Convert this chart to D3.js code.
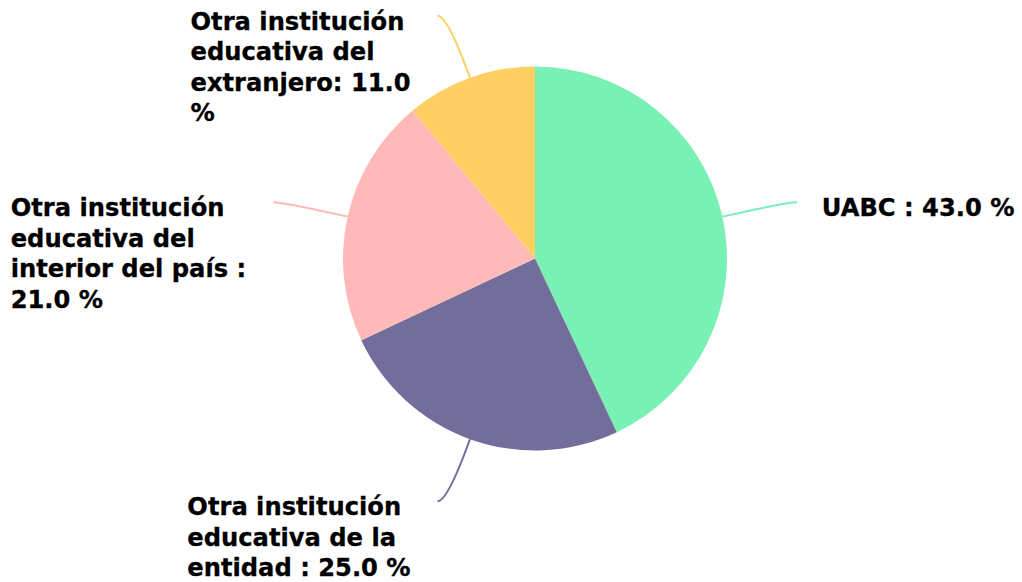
<!DOCTYPE html>
<html>
<head>
<meta charset="utf-8">
<script src="https://cdn.jsdelivr.net/npm/d3@7"></script>
<style>
  body { margin: 0; background: #fff; }
  svg { display: block; }
</style>
</head>
<body>
<svg id="canvas" width="1022" height="582"></svg>
<script>
let categories = [
    'UABC',
    'Otra institución educativa de la entidad',
    'Otra institución educativa del interior del país',
    'Otra institución educativa del extranjero'
]
let values = [43.0, 25.0, 21.0, 11.0]
let labelLines = [
    ['UABC : 43.0 %'],
    ['Otra institución', 'educativa de la', 'entidad : 25.0 %'],
    ['Otra institución', 'educativa del', 'interior del país :', '21.0 %'],
    ['Otra institución', 'educativa del', 'extranjero: 11.0', '%']
]
let colors = ['#79f0b4', '#736d9b', '#ffb9b9', '#ffcf64']

let cx = 535
let cy = 258.5
let radius = 192
let leadRadial = 66   // first segment of the leader line
let leadFlat = 10     // horizontal end of the leader line
let labelGap = 25
let lineHeight = 30.5

let canvas = d3.select('#canvas')

let data = categories.map((name, i) => {
    return { name: name, value: values[i], lines: labelLines[i], color: colors[i] }
})

let pie = d3.pie()
    .sort(null)
    .value((d) => d.value)

let arc = d3.arc()
    .innerRadius(0)
    .outerRadius(radius)

let arcs = pie(data)

let g = canvas.append('g')
    .attr('transform', 'translate(' + cx + ',' + cy + ')')

g.selectAll('path.slice')
    .data(arcs)
    .enter()
    .append('path')
    .attr('class', 'slice')
    .attr('d', arc)
    .attr('fill', (d) => d.data.color)

arcs.forEach((d) => {
    let mid = (d.startAngle + d.endAngle) / 2
    let dx = Math.sin(mid)
    let dy = -Math.cos(mid)
    let p0 = [dx * radius, dy * radius]
    let p1 = [dx * (radius + leadRadial), dy * (radius + leadRadial)]
    let side = dx >= 0 ? 1 : -1
    let p2 = [p1[0] + side * leadFlat, p1[1]]

    let path = d3.path()
    path.moveTo(p0[0], p0[1])
    path.quadraticCurveTo(p1[0], p1[1], p2[0], p2[1])

    g.append('path')
        .attr('d', path.toString())
        .attr('fill', 'none')
        .attr('stroke', d.data.color)
        .attr('stroke-width', 2)

    let text = g.append('text')
        .attr('font-family', '"DejaVu Sans", sans-serif')
        .attr('font-weight', 'bold')
        .attr('font-size', 24.2)
        .attr('fill', '#000')
        .attr('stroke', '#000')
        .attr('stroke-width', 0.3)

    d.data.lines.forEach((line, i) => {
        text.append('tspan')
            .attr('x', 0)
            .attr('y', i * lineHeight)
            .text(line)
    })

    let maxW = 0
    text.selectAll('tspan').each(function () {
        maxW = Math.max(maxW, this.getComputedTextLength())
    })

    let tx = side > 0 ? p2[0] + labelGap : p2[0] - labelGap - maxW - 2
    // keep the top label inside the picture
    let ty = Math.max(p2[1] + 14, 27 - cy)
    text.attr('transform', 'translate(' + tx + ',' + ty + ')')
})
</script>
</body>
</html>
